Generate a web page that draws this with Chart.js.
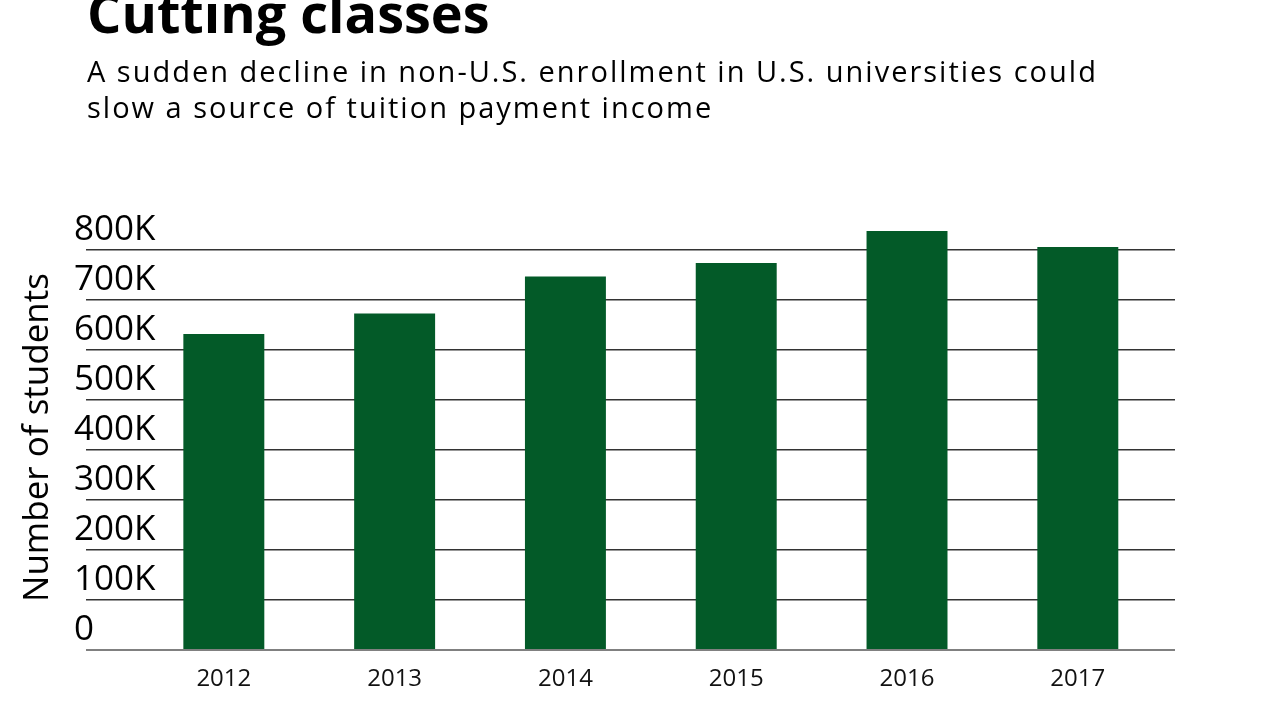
<!DOCTYPE html>
<html><head><meta charset="utf-8">
<script src="https://cdn.jsdelivr.net/npm/chart.js@4"></script>
<style>
html,body{margin:0;padding:0;background:#fff;width:1280px;height:720px;overflow:hidden;}
#wrap{position:relative;width:1280px;height:720px;}
canvas{position:absolute;left:0;top:0;}
.t{position:absolute;left:87px;font-family:"Open Sans",sans-serif;color:#000;white-space:nowrap;}
#title{top:-15px;font-size:54px;line-height:54px;font-weight:700;}
#sub{top:53px;font-size:29px;line-height:36px;letter-spacing:2px;}
</style></head>
<body><div id="wrap"><canvas id="c" width="1280" height="720"></canvas>
<div class="t" id="title">Cutting classes</div>
<div class="t" id="sub">A sudden decline in non-U.S. enrollment in U.S. universities could<br>slow a source of tuition payment income</div></div>
<script>
const years = [2012, 2013, 2014, 2015, 2016, 2017];
const students = [632000, 673000, 747000, 774000, 838000, 806000];
const yTickValues = [0, 100000, 200000, 300000, 400000, 500000, 600000, 700000, 800000];
const yTickLabels = ['0', '100K', '200K', '300K', '400K', '500K', '600K', '700K', '800K'];
const yAxisTitle = 'Number of students';

Chart.defaults.font.family = '"Open Sans", sans-serif';
Chart.defaults.color = '#000';

new Chart(document.getElementById('c'), {
  type: 'bar',
  data: {
    datasets: [{
      data: years.map((y, i) => ({x: y, y: students[i]})),
      backgroundColor: '#035a28',
      borderWidth: 0,
      categoryPercentage: 1,
      barPercentage: 0.474
    }]
  },
  options: {
    responsive: false,
    animation: false,
    layout: {padding: {top: 225, left: 0, right: 105, bottom: 0}},
    plugins: {legend: {display: false}, tooltip: {enabled: false}},
    scales: {
      x: {
        type: 'linear',
        offset: false,
        min: 2011.193,
        max: 2017.569,
        grid: {display: false, offset: false},
        border: {display: false},
        afterBuildTicks: s => { s.ticks = years.map(v => ({value: v})); },
        ticks: {
          padding: 7,
          font: {size: 24},
          color: '#111',
          callback: v => String(v)
        },
        afterFit: s => { s.height = 70; }
      },
      y: {
        min: 0,
        max: 850000,
        grid: {
          drawTicks: false,
          color: c => (c.tick && c.tick.value === 0) ? '#808080' : '#333333',
          lineWidth: c => (c.tick && c.tick.value === 0) ? 2 : 1.5
        },
        border: {display: false},
        afterBuildTicks: s => { s.ticks = yTickValues.map(v => ({value: v})); },
        ticks: {
          mirror: true,
          crossAlign: 'near',
          padding: -12,
          labelOffset: -20,
          font: {size: 35},
          callback: v => { const i = yTickValues.indexOf(v); return i >= 0 ? yTickLabels[i] : ''; }
        },
        title: {
          display: true,
          text: yAxisTitle,
          font: {size: 35},
          padding: {top: 17, bottom: 0}
        },
        afterFit: s => { s.width = 86; }
      }
    }
  }
});
</script>
</body></html>
